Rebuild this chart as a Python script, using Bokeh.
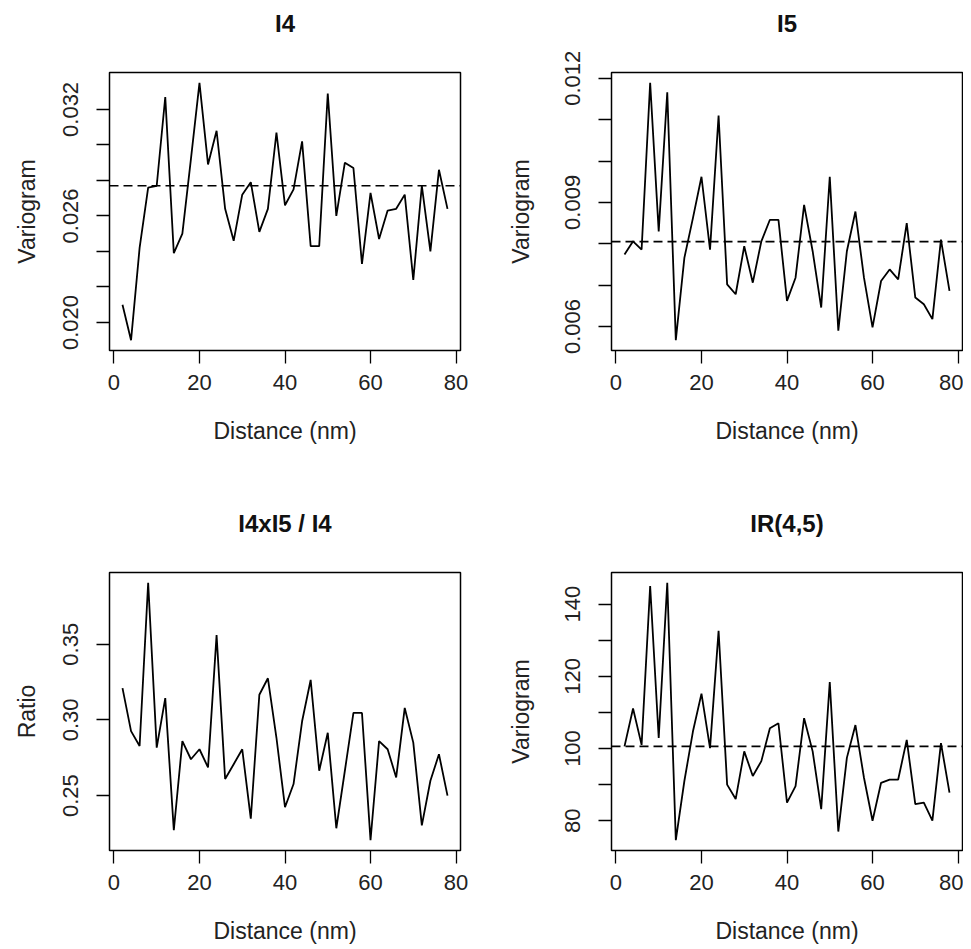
import math
from bokeh.plotting import figure
from bokeh.models import Range1d, FixedTicker, CustomJSTickFormatter, Span, Title
from bokeh.layouts import column, row
from bokeh.embed import file_html
from bokeh.resources import INLINE

# ---------------- data ----------------
distance = [2, 4, 6, 8, 10, 12, 14, 16, 18, 20, 22, 24, 26, 28, 30, 32, 34, 36, 38, 40,
            42, 44, 46, 48, 50, 52, 54, 56, 58, 60, 62, 64, 66, 68, 70, 72, 74, 76, 78]

i4 = [0.0210, 0.0190, 0.0242, 0.0276, 0.0277, 0.0327, 0.0239, 0.0250, 0.0292, 0.0335,
      0.0289, 0.0308, 0.0264, 0.0246, 0.0272, 0.0279, 0.0251, 0.0264, 0.0307, 0.0266,
      0.0275, 0.0302, 0.0243, 0.0243, 0.0329, 0.0260, 0.0290, 0.0287, 0.0233, 0.0273,
      0.0247, 0.0263, 0.0264, 0.0272, 0.0224, 0.0277, 0.0240, 0.0286, 0.0264]
i4_sill = 0.0277

i5 = [0.00774, 0.00806, 0.00786, 0.01189, 0.00830, 0.01166, 0.00567, 0.00766, 0.00862, 0.00962,
      0.00786, 0.01110, 0.00702, 0.00678, 0.00794, 0.00706, 0.00806, 0.00858, 0.00858, 0.00662,
      0.00718, 0.00894, 0.00782, 0.00646, 0.00962, 0.00590, 0.00782, 0.00878, 0.00718, 0.00598,
      0.00710, 0.00738, 0.00714, 0.00850, 0.00670, 0.00654, 0.00618, 0.00810, 0.00686]
i5_sill = 0.00805

ratio = [0.3210, 0.2926, 0.2828, 0.3906, 0.2817, 0.3144, 0.2271, 0.2860, 0.2740, 0.2806,
         0.2686, 0.3560, 0.2609, 0.2707, 0.2806, 0.2347, 0.3166, 0.3275, 0.2882, 0.2423,
         0.2576, 0.2991, 0.3264, 0.2664, 0.2915, 0.2284, 0.2664, 0.3046, 0.3046, 0.2205,
         0.2860, 0.2806, 0.2620, 0.3079, 0.2850, 0.2303, 0.2598, 0.2773, 0.2500]

ir45 = [100.6, 111.1, 101.0, 145.0, 102.9, 145.9, 74.6, 91.0, 104.7, 115.2,
        100.1, 132.6, 90.0, 86.0, 99.2, 92.4, 96.5, 105.6, 107.0, 85.0,
        89.6, 108.4, 99.2, 83.2, 118.4, 77.0, 97.4, 106.5, 91.9, 80.0,
        90.5, 91.4, 91.4, 102.4, 84.6, 85.0, 80.0, 101.5, 87.8]
ir45_sill = 100.6

x_ticks = [0, 20, 40, 60, 80]

i4_ticks = [0.020, 0.022, 0.024, 0.026, 0.028, 0.030, 0.032]
i4_label_values = [0.020, 0.026, 0.032]
i4_label_texts = ["0.020", "0.026", "0.032"]

i5_ticks = [0.006, 0.007, 0.008, 0.009, 0.010, 0.011, 0.012]
i5_label_values = [0.006, 0.009, 0.012]
i5_label_texts = ["0.006", "0.009", "0.012"]

ratio_ticks = [0.25, 0.30, 0.35]
ratio_label_values = [0.25, 0.30, 0.35]
ratio_label_texts = ["0.25", "0.30", "0.35"]

ir_ticks = [80, 90, 100, 110, 120, 130, 140]
ir_label_values = [80, 100, 120, 140]
ir_label_texts = ["80", "100", "120", "140"]

titles = ["I4", "I5", "I4xI5 / I4", "IR(4,5)"]
ylabels = ["Variogram", "Variogram", "Ratio", "Variogram"]
xlabel = "Distance (nm)"

FONT = "Liberation Sans"


def padded(vals):
    lo, hi = min(vals), max(vals)
    pad = 0.04 * (hi - lo)
    return Range1d(lo - pad, hi + pad)


def panel(title, ylabel, ys, yticks, lab_vals, lab_texts, sill,
          width, height, left, right, top, bottom, ylab_standoff):
    p = figure(width=width, height=height, output_backend="svg", toolbar_location=None,
               x_range=padded(distance), y_range=padded(ys),
               min_border_left=left, min_border_right=right,
               min_border_top=top, min_border_bottom=bottom)
    p.background_fill_color = "white"
    p.border_fill_color = "white"
    p.outline_line_color = "black"
    p.outline_line_width = 1.5
    p.xgrid.visible = False
    p.ygrid.visible = False

    # spacer panel next to the frame, then the real title further out
    p.add_layout(Title(text=" ", text_font=FONT, text_font_size="24px", standoff=0), "above")
    p.add_layout(Title(text=title, align="center", text_font=FONT, text_font_size="24px",
                       text_font_style="bold", text_color="#111111", standoff=14), "above")

    p.line(distance, ys, line_color="black", line_width=1.8)
    if sill is not None:
        p.add_layout(Span(location=sill, dimension="width", line_color="black",
                          line_width=1.7, line_dash="9 5"))

    for ax in (p.xaxis[0], p.yaxis[0]):
        ax.axis_line_color = None
        ax.major_tick_line_color = "black"
        ax.major_tick_line_width = 1.3
        ax.major_tick_out = 13
        ax.major_tick_in = 0
        ax.minor_tick_line_color = None
        ax.major_label_text_font = FONT
        ax.major_label_text_font_size = "22px"
        ax.major_label_text_color = "#222222"
        ax.axis_label_text_font = FONT
        ax.axis_label_text_font_size = "23px"
        ax.axis_label_text_font_style = "normal"
        ax.axis_label_text_color = "#222222"

    p.xaxis.ticker = FixedTicker(ticks=x_ticks)
    p.xaxis.axis_label = xlabel
    p.xaxis.major_label_standoff = 11
    p.xaxis.axis_label_standoff = 25

    p.yaxis.ticker = FixedTicker(ticks=yticks)
    p.yaxis.formatter = CustomJSTickFormatter(
        args=dict(vals=lab_vals, texts=lab_texts),
        code="""
        for (let i = 0; i < vals.length; i++) {
            if (Math.abs(vals[i] - tick) < 1e-9 * Math.max(1, Math.abs(tick))) { return texts[i]; }
        }
        return "";
        """)
    p.yaxis.major_label_orientation = "parallel"
    p.yaxis.axis_label = ylabel
    p.yaxis.major_label_standoff = 18
    p.yaxis.axis_label_standoff = ylab_standoff
    return p


p1 = panel(titles[0], ylabels[0], i4, i4_ticks, i4_label_values, i4_label_texts, i4_sill,
           493, 500, 109, 33, 70, 150, 21)
p2 = panel(titles[1], ylabels[1], i5, i5_ticks, i5_label_values, i5_label_texts, i5_sill,
           470, 500, 118, 1, 70, 150, 29)
p3 = panel(titles[2], ylabels[2], ratio, ratio_ticks, ratio_label_values, ratio_label_texts, None,
           493, 447, 109, 33, 70, 97, 21)
p4 = panel(titles[3], ylabels[3], ir45, ir_ticks, ir_label_values, ir_label_texts, ir45_sill,
           470, 447, 118, 1, 70, 97, 29)

layout = column(row(p1, p2, spacing=0), row(p3, p4, spacing=0), spacing=0)

with open("out.html", "w") as f:
    f.write(file_html(layout, INLINE))
